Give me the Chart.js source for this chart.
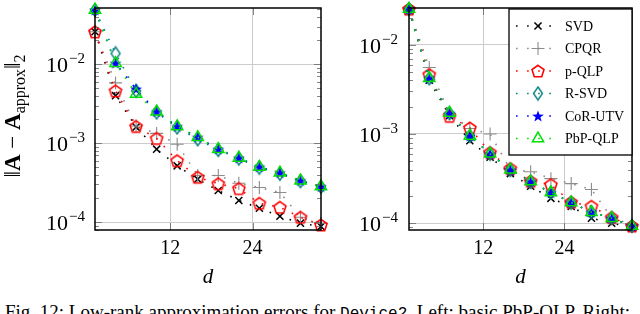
<!DOCTYPE html>
<html>
<head>
<meta charset="utf-8">
<script src="https://cdn.jsdelivr.net/npm/chart.js"></script>
<style>
  html, body { margin: 0; padding: 0; background: #fff; overflow: hidden; }
  body { width: 640px; height: 314px; position: relative; }
  #wl { position: absolute; left: 0; top: 0; }
  #wr { position: absolute; left: 330px; top: 0; }
  #caption { position: absolute; left: 5px; top: 302px; font-family: "Liberation Serif", serif; font-size: 19px; line-height: 19px; white-space: nowrap; color: #000; }
  #caption span { font-family: "Liberation Mono", monospace; font-size: 16px; }
</style>
</head>
<body>
<div id="wl"><canvas id="cl" width="330" height="300"></canvas></div>
<div id="wr"><canvas id="cr" width="310" height="300"></canvas></div>
<div id="caption">Fig. 12: Low-rank approximation errors for <span>Device2</span>. Left: basic PbP-QLP. Right:</div>
<script>
// ranks
const d = [1, 4, 7, 10, 13, 16, 19, 22, 25, 28, 31, 34];
const xTicks = [12, 24];
const yTicks = [1e-4, 1e-3, 1e-2];
const labels = ['SVD', 'CPQR', 'p-QLP', 'R-SVD', 'CoR-UTV', 'PbP-QLP'];

// left: basic PbP-QLP
const svdL  = [0.0258, 0.0040, 0.00160, 0.00084, 0.000516, 0.00035, 0.000251, 0.000188, 0.00015, 0.000119, 0.000097, 0.000088];
const cpqrL = [0.0258, 0.0058, 0.00165, 0.00133, 0.00097, 0.00039, 0.00039, 0.00031, 0.000274, 0.000237, 0.000115, 0.000097];
const pqlpL = [0.0258, 0.0046, 0.00163, 0.00115, 0.00060, 0.00037, 0.000307, 0.000266, 0.000173, 0.000154, 0.000115, 0.000092];
const rsvdL = [0.0487, 0.0137, 0.0046, 0.00245, 0.00158, 0.00112, 0.00082, 0.00064, 0.00049, 0.00041, 0.00033, 0.00028];
const corL  = [0.0487, 0.0103, 0.00487, 0.00251, 0.00163, 0.00119, 0.00084, 0.00065, 0.00050, 0.000422, 0.000335, 0.000282];
const pbpL  = [0.0487, 0.0103, 0.0042, 0.00251, 0.00163, 0.00119, 0.00084, 0.00065, 0.00050, 0.000422, 0.000335, 0.000282];

// right
const svdR  = [0.0251, 0.0040, 0.00160, 0.00084, 0.00055, 0.00036, 0.00026, 0.00019, 0.000154, 0.000114, 0.000100, 0.000090];
const cpqrR = [0.0251, 0.00555, 0.00170, 0.00115, 0.00100, 0.00040, 0.000378, 0.000316, 0.000278, 0.000239, 0.000115, 0.000096];
const pqlpR = [0.0251, 0.00464, 0.00158, 0.00117, 0.00062, 0.00041, 0.000295, 0.000271, 0.000172, 0.000155, 0.000116, 0.000093];
const rsvdR = [0.0251, 0.0042, 0.00170, 0.00095, 0.00060, 0.000395, 0.00029, 0.000221, 0.00017, 0.000133, 0.000114, 0.000093];
const corR  = [0.0251, 0.0042, 0.00170, 0.00095, 0.00060, 0.000398, 0.000293, 0.000221, 0.000171, 0.000133, 0.000114, 0.000093];
const pbpR  = [0.0251, 0.0042, 0.00172, 0.00095, 0.00060, 0.000398, 0.000293, 0.000221, 0.000171, 0.000133, 0.000114, 0.000093];

const serif = '"Liberation Serif", "DejaVu Serif", serif';
const grid = '#cccccc';

// marker images for shapes chart.js doesn't have
function mk(w, h, draw) {
  const c = document.createElement('canvas');
  c.width = w; c.height = h;
  draw(c.getContext('2d'));
  return c;
}
function poly(g, n, cx, cy, r1, r2) {
  g.beginPath();
  const k = r2 ? n * 2 : n;
  for (let i = 0; i < k; i++) {
    const a = -Math.PI / 2 + i * Math.PI * 2 / k;
    const r = r2 && i % 2 ? r2 : r1;
    const x = cx + r * Math.cos(a), y = cy + r * Math.sin(a);
    i ? g.lineTo(x, y) : g.moveTo(x, y);
  }
  g.closePath();
}
const pentagon = mk(16, 16, g => { g.strokeStyle = '#ff0000'; g.lineWidth = 1.6; poly(g, 5, 8, 8.6, 6.3); g.stroke(); });
const star = mk(14, 14, g => { g.fillStyle = '#0000ff'; poly(g, 5, 7, 7.6, 6.2, 2.5); g.fill(); });
const diamond = mk(12, 16, g => {
  g.strokeStyle = '#008080'; g.lineWidth = 1.4;
  g.beginPath(); g.moveTo(6, 1.5); g.lineTo(10.5, 8); g.lineTo(6, 14.5); g.lineTo(1.5, 8); g.closePath(); g.stroke();
});

const styles = [
  { color: '#000000', pointStyle: 'crossRot', radius: 5, bw: 1.5, order: 6 },
  { color: '#8c8c8c', pointStyle: 'cross', radius: 6.5, bw: 1.1, order: 5 },
  { color: '#ff0000', pointStyle: pentagon, radius: 6, bw: 1.5, order: 4 },
  { color: '#008080', pointStyle: diamond, radius: 6, bw: 1.4, order: 3 },
  { color: '#0000ff', pointStyle: star, radius: 6, bw: 1, order: 2 },
  { color: '#00e000', pointStyle: 'triangle', radius: 6.5, bw: 1.5, order: 1 }
];

function makeSets(series) {
  return series.map((s, i) => {
    const st = styles[i];
    return {
      label: labels[i],
      data: d.map((x, j) => ({ x: x, y: s[j] })),
      borderColor: st.color,
      backgroundColor: 'transparent',
      borderWidth: 1.6,
      borderDash: [1.6, 9],
      pointStyle: st.pointStyle,
      pointRadius: st.radius,
      pointBorderColor: st.color,
      pointBackgroundColor: 'transparent',
      pointBorderWidth: st.bw,
      fill: false,
      tension: 0,
      clip: false,
      order: st.order
    };
  });
}

function drawPow(ctx, xr, y, e) {
  const big = '22px ' + serif, small = '15px ' + serif;
  const es = '\u2212' + e;
  ctx.font = small; const we = ctx.measureText(es).width;
  ctx.font = big; const wb = ctx.measureText('10').width;
  ctx.fillStyle = '#000';
  ctx.textBaseline = 'alphabetic';
  ctx.textAlign = 'left';
  ctx.fillText('10', xr - we - wb - 1, y + 8);
  ctx.font = small;
  ctx.fillText(es, xr - we, y - 1);
}

const decor = {
  id: 'decor',
  afterDraw(chart, args, opts) {
    const ctx = chart.ctx, a = chart.chartArea, ys = chart.scales.y, xs = chart.scales.x;
    ctx.save();
    // minor / major ticks inside frame
    ctx.strokeStyle = '#666';
    ctx.lineWidth = 0.8;
    for (let k = -5; k <= -1; k++) {
      for (let m = 1; m <= 9; m++) {
        const v = m * Math.pow(10, k);
        if (v < ys.min || v > ys.max) continue;
        const y = Math.round(ys.getPixelForValue(v)) + 0.5;
        const len = m === 1 ? 7 : 4;
        ctx.beginPath();
        ctx.moveTo(a.left, y); ctx.lineTo(a.left + len, y);
        ctx.moveTo(a.right, y); ctx.lineTo(a.right - len, y);
        ctx.stroke();
      }
    }
    xTicks.forEach(t => {
      const x = Math.round(xs.getPixelForValue(t)) + 0.5;
      ctx.beginPath();
      ctx.moveTo(x, a.bottom); ctx.lineTo(x, a.bottom - 7);
      ctx.moveTo(x, a.top); ctx.lineTo(x, a.top + 7);
      ctx.stroke();
    });
    // frame
    ctx.strokeStyle = '#000';
    ctx.lineWidth = 1.5;
    ctx.strokeRect(a.left, a.top, a.right - a.left, a.bottom - a.top);
    // y tick labels
    yTicks.forEach(v => {
      if (v < ys.min || v > ys.max) return;
      drawPow(ctx, a.left - opts.labelGap, ys.getPixelForValue(v), -Math.round(Math.log10(v)));
    });
    // x title
    ctx.font = 'italic 21px ' + serif;
    ctx.textAlign = 'center';
    ctx.textBaseline = 'alphabetic';
    ctx.fillStyle = '#000';
    ctx.fillText('d', (a.left + a.right) / 2, 283);
    // y title (left only)
    if (opts.yTitle) {
      const parts = [
        ['\u2016', '23px ' + serif, 0],
        ['A', 'bold 23px ' + serif, 0],
        [' \u2212 ', '23px ' + serif, 0],
        ['A', 'bold 23px ' + serif, 0],
        ['approx', '16px ' + serif, 5],
        ['\u2016', '23px ' + serif, 0],
        ['2', '16px ' + serif, 5]
      ];
      let total = 0;
      parts.forEach(p => { ctx.font = p[1]; p.push(ctx.measureText(p[0]).width); total += p[3]; });
      ctx.translate(20, 116);
      ctx.rotate(-Math.PI / 2);
      ctx.textAlign = 'left';
      let x = -total / 2;
      parts.forEach(p => { ctx.font = p[1]; ctx.fillText(p[0], x, p[2]); x += p[3]; });
    }
    ctx.restore();
  }
};

const legendBox = {
  id: 'legendBox',
  afterDraw(chart, args, opts) {
    if (!opts.show) return;
    const ctx = chart.ctx, a = chart.chartArea;
    const w = 123, h = 146;
    const x0 = a.right - w, y0 = a.top + 1;
    ctx.save();
    ctx.fillStyle = '#fff';
    ctx.fillRect(x0, y0, w, h);
    ctx.strokeStyle = '#000';
    ctx.lineWidth = 1.3;
    ctx.strokeRect(x0, y0, w, h);
    labels.forEach((lab, i) => {
      const st = styles[i];
      const y = y0 + 17 + i * 22.5;
      ctx.strokeStyle = st.color;
      ctx.lineWidth = 1.6;
      ctx.setLineDash([1.6, 9.5]);
      ctx.beginPath();
      ctx.moveTo(x0 + 7, y); ctx.lineTo(x0 + 46, y);
      ctx.stroke();
      ctx.setLineDash([]);
      ctx.strokeStyle = st.color;
      ctx.fillStyle = 'transparent';
      ctx.lineWidth = st.bw;
      Chart.helpers.drawPoint(ctx, { pointStyle: st.pointStyle, radius: st.radius, rotation: 0, borderWidth: st.bw }, x0 + 29, y);
      ctx.fillStyle = '#000';
      ctx.font = '14px ' + serif;
      ctx.textAlign = 'left';
      ctx.textBaseline = 'middle';
      ctx.fillText(lab, x0 + 56, y + 1);
    });
    ctx.restore();
  }
};

function makeChart(id, series, ymin, ymax, yWidth, padRight, left) {
  return new Chart(document.getElementById(id), {
    type: 'line',
    data: { datasets: makeSets(series) },
    plugins: [decor, legendBox],
    options: {
      responsive: false,
      animation: false,
      devicePixelRatio: 1,
      layout: { padding: { left: 0, top: 5, right: padRight, bottom: 0 } },
      plugins: {
        legend: { display: false },
        tooltip: { enabled: false },
        decor: { yTitle: left, labelGap: left ? 10 : 11 },
        legendBox: { show: !left }
      },
      scales: {
        x: {
          type: 'linear', min: 1, max: 34,
          afterBuildTicks: s => { s.ticks = xTicks.map(v => ({ value: v })); },
          afterFit: s => { s.height = 70; },
          ticks: { color: '#000', font: { family: serif, size: 20 }, padding: 7, maxRotation: 0, autoSkip: false },
          grid: { color: grid, lineWidth: 1, drawTicks: false },
          border: { display: false }
        },
        y: {
          type: 'logarithmic', min: ymin, max: ymax,
          afterBuildTicks: s => { s.ticks = yTicks.map(v => ({ value: v })); },
          afterFit: s => { s.width = yWidth; },
          ticks: { display: false },
          grid: { color: grid, lineWidth: 1, drawTicks: false },
          border: { display: false }
        }
      }
    }
  });
}

makeChart('cl', [svdL, cpqrL, pqlpL, rsvdL, corL, pbpL], 7.94e-5, 0.0516, 95, 9, true);
makeChart('cr', [svdR, cpqrR, pqlpR, rsvdR, corR, pbpR], 8.4e-5, 0.0258, 79, 7, false);
</script>
</body>
</html>
